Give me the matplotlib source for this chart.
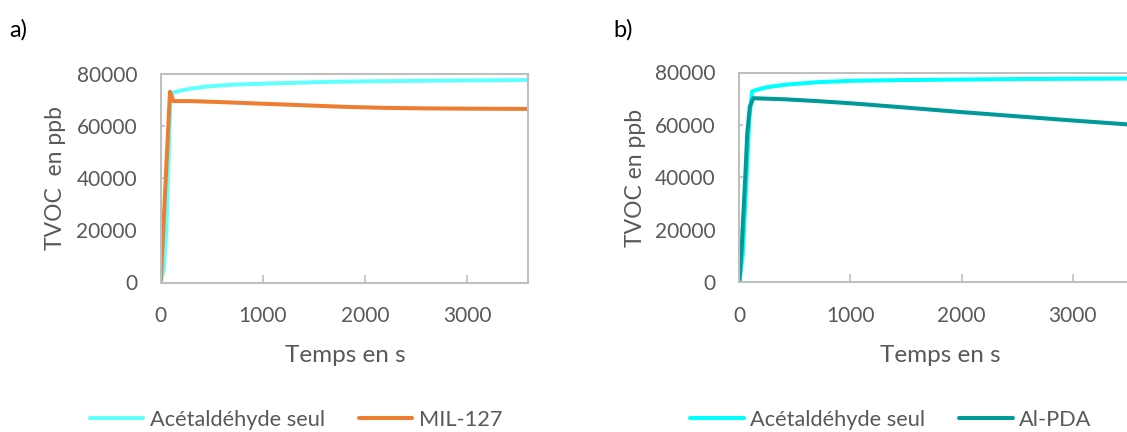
import matplotlib
matplotlib.use("Agg")
import matplotlib.pyplot as plt

# ---- data ----
t_ref_a = [0, 30, 55, 80, 95, 120, 200, 300, 450, 700, 1100, 1660, 2500, 3600]
v_ref_a = [0, 5000, 20000, 50000, 71000, 72800, 73700, 74400, 75200, 75900, 76400, 77000, 77400, 77700]

t_mil = [0, 91, 124, 300, 600, 1000, 1400, 1800, 2200, 2600, 3000, 3600]
v_mil = [0, 73200, 69600, 69600, 69200, 68600, 68000, 67400, 67000, 66800, 66700, 66600]

t_ref_b = [0, 30, 60, 90, 115, 150, 250, 427, 700, 1023, 1446, 2500, 3600]
v_ref_b = [0, 10000, 35000, 62000, 72800, 73300, 74400, 75400, 76300, 76850, 77100, 77500, 77700]

t_pda = [0, 20, 51, 72, 95, 126, 400, 700, 1023, 1446, 2000, 2500, 3000, 3600]
v_pda = [0, 12000, 37800, 57000, 67000, 70200, 69800, 69100, 68200, 66800, 64900, 63300, 61700, 59900]

x_ticks = [0, 1000, 2000, 3000]
y_ticks = [0, 20000, 40000, 60000, 80000]
panel_labels = ["a)", "b)"]
ylabels = ["TVOC  en ppb", "TVOC en ppb"]
xlabel = "Temps en s"
legend_a = ["Acétaldéhyde seul", "MIL-127"]
legend_b = ["Acétaldéhyde seul", "Al-PDA"]

# ---- style ----
plt.rcParams['font.family'] = ['Lato', 'DejaVu Sans']
W, H = 1127, 432
fig = plt.figure(figsize=(W / 100, H / 100), dpi=100)
TXT = '#595959'
GRID = '#bfbfbf'
FS = 15
LW = 2.9


def px(x0, y_top, x1, y_bot):
    return [x0 / W, 1 - y_bot / H, (x1 - x0) / W, (y_bot - y_top) / H]


ax1 = fig.add_axes(px(160.7, 74, 528.3, 282.5))
ax2 = fig.add_axes(px(739.3, 72.5, 1139.3, 282.3))

series = [
    (ax1, [(t_ref_a, v_ref_a, '#62ffff'), (t_mil, v_mil, '#ed7d31')], legend_a),
    (ax2, [(t_ref_b, v_ref_b, '#00ffff'), (t_pda, v_pda, '#009999')], legend_b),
]

for ax, ser, _ in series:
    for t, v, c in ser:
        ax.plot(t, v, color=c, lw=LW, solid_capstyle='round', solid_joinstyle='round')
    ax.set_xlim(0, 3600)
    ax.set_ylim(0, 80000)
    ax.set_xticks(x_ticks)
    ax.set_yticks(y_ticks)
    for s in ax.spines.values():
        s.set_color(GRID)
        s.set_linewidth(1.5)
    ax.tick_params(axis='x', direction='in', length=5.5, width=1.2, color=GRID,
                   labelsize=FS, labelcolor=TXT, pad=17)
    ax.tick_params(axis='y', direction='in', length=3, width=1.2, color=GRID,
                   labelsize=FS, labelcolor=TXT, pad=17)

# axis labels
YFS = 16.5
fig.text(55 / W, 1 - 178 / H, ylabels[0], rotation=90, ha='center', va='center',
         fontsize=YFS, color=TXT)
fig.text(635 / W, 1 - 178 / H, ylabels[1], rotation=90, ha='center', va='center',
         fontsize=YFS, color=TXT)
fig.text(345 / W, 1 - 355 / H, xlabel, ha='center', va='center', fontsize=17.5, color=TXT)
fig.text(940 / W, 1 - 355 / H, xlabel, ha='center', va='center', fontsize=17.5, color=TXT)

# panel labels
fig.text(9 / W, 1 - 30 / H, panel_labels[0], ha='left', va='center', fontsize=17, color='black')
fig.text(613 / W, 1 - 30 / H, panel_labels[1], ha='left', va='center', fontsize=17, color='black')

# legends
for (ax, ser, labels), cx in zip(series, [296, 891]):
    handles = ax.get_lines()
    fig.legend(handles, labels, loc='center', bbox_to_anchor=(cx / W, 1 - 420 / H),
               ncol=2, frameon=False, fontsize=15.7, labelcolor=TXT,
               handlelength=2.45, handletextpad=0.3, columnspacing=1.55,
               borderpad=0, borderaxespad=0)

fig.savefig('out.png', dpi=100)
